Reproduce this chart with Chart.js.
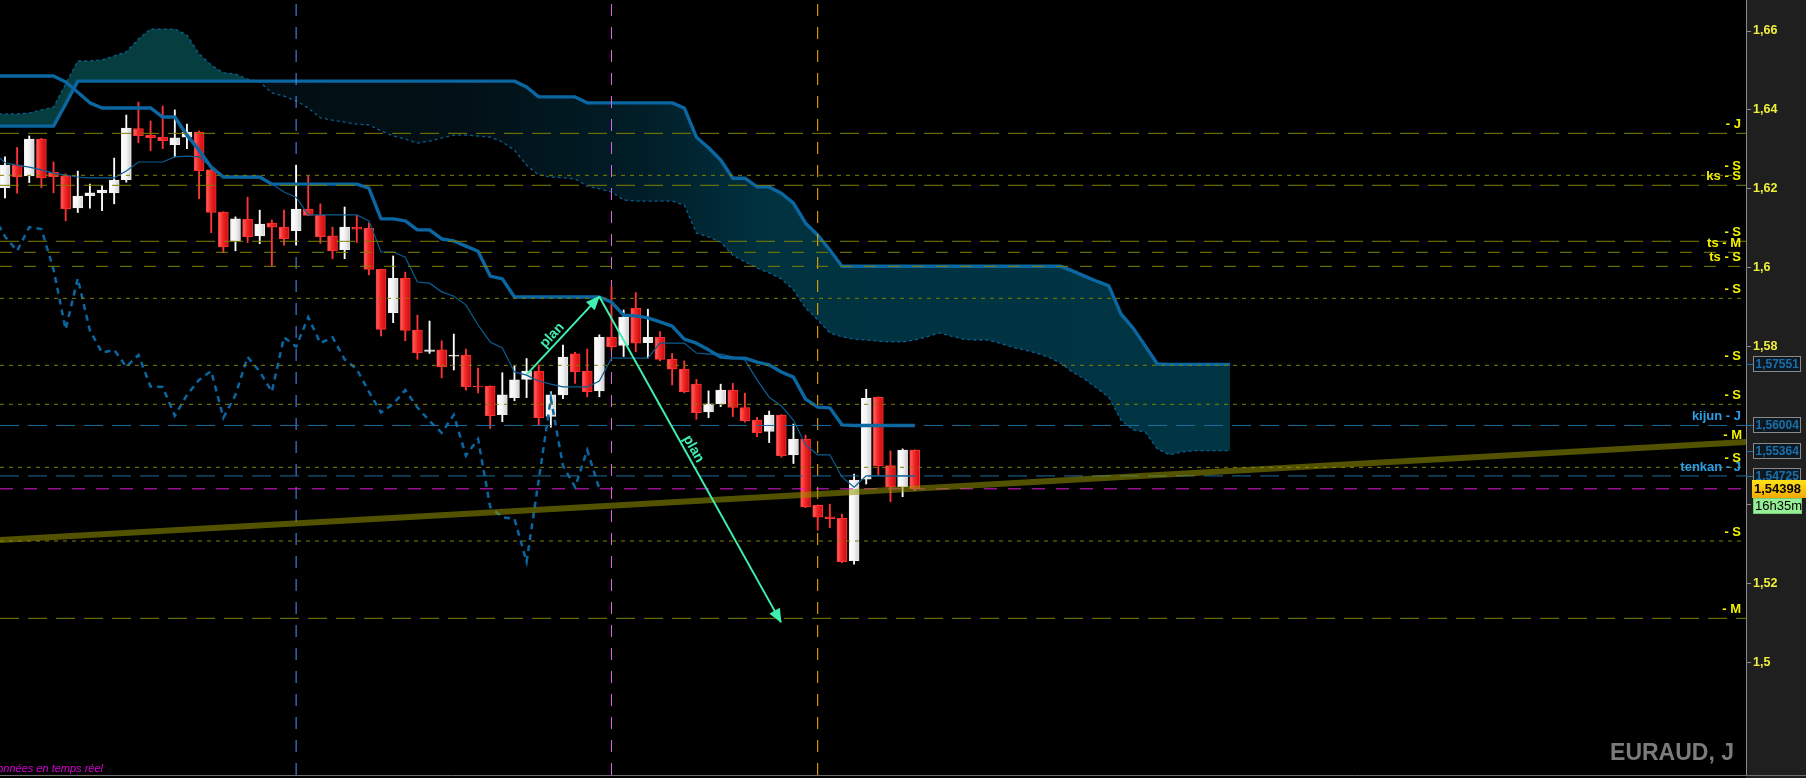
<!DOCTYPE html>
<html>
<head>
<meta charset="utf-8">
<title>EURAUD, J</title>
<script src="https://cdn.jsdelivr.net/npm/chart.js@4.4.1/dist/chart.umd.min.js"></script>
<style>
html,body{margin:0;padding:0;background:#000;overflow:hidden;}
#c{display:block;}
</style>
</head>
<body>
<canvas id="c" width="1806" height="778"></canvas>
<script>
// ======================= DATA =======================
// Daily candles, index 0..75 (x = candle index)
const opens = [1.6203,1.6260,1.6233,1.6326,1.6242,1.6233,1.6152,1.6183,1.6190,1.6190,
1.6223,1.6353,1.6336,1.6331,1.6312,1.6331,1.6344,1.6248,1.6141,1.6068,
1.6123,1.6081,1.6113,1.6103,1.6094,1.6148,1.6133,1.6081,1.6046,1.6103,
1.6100,1.5996,1.5886,1.5973,1.5842,1.5788,1.5792,1.5776,1.5778,1.5700,
1.5700,1.5628,1.5671,1.5717,1.5738,1.5623,1.5678,1.5782,1.5738,1.5688,
1.5824,1.5803,1.5897,1.5810,1.5824,1.5768,1.5743,1.5705,1.5635,1.5655,
1.5690,1.5646,1.5614,1.5585,1.5627,1.5526,1.5566,1.5398,1.5369,1.5365,
1.5258,1.5464,1.5672,1.5499,1.5445,1.5538];
const highs = [1.6281,1.6305,1.6334,1.6328,1.6268,1.6238,1.6245,1.6212,1.6209,1.6278,
1.6387,1.6420,1.6372,1.6410,1.6400,1.6364,1.6347,1.6249,1.6142,1.6129,
1.6179,1.6146,1.6121,1.6146,1.6260,1.6234,1.6162,1.6103,1.6154,1.6133,
1.6114,1.5997,1.6030,1.5989,1.5880,1.5865,1.5815,1.5832,1.5794,1.5746,
1.5701,1.5734,1.5751,1.5770,1.5754,1.5686,1.5804,1.5786,1.5794,1.5830,
1.5952,1.5893,1.5937,1.5895,1.5838,1.5783,1.5764,1.5717,1.5688,1.5705,
1.5707,1.5682,1.5621,1.5637,1.5628,1.5604,1.5576,1.5399,1.5401,1.5376,
1.5477,1.5692,1.5673,1.5536,1.5541,1.5539];
const lows = [1.6177,1.6189,1.6216,1.6203,1.6190,1.6119,1.6140,1.6151,1.6145,1.6162,
1.6217,1.6317,1.6297,1.6302,1.6281,1.6302,1.6175,1.6089,1.6038,1.6043,
1.6064,1.6061,1.6004,1.6057,1.6058,1.6132,1.6062,1.6023,1.6023,1.6064,
1.5982,1.5827,1.5861,1.5815,1.5768,1.5783,1.5721,1.5741,1.5690,1.5683,
1.5593,1.5610,1.5663,1.5671,1.5600,1.5596,1.5668,1.5707,1.5673,1.5673,
1.5792,1.5775,1.5787,1.5771,1.5764,1.5703,1.5683,1.5616,1.5620,1.5648,
1.5623,1.5609,1.5572,1.5557,1.5520,1.5504,1.5392,1.5335,1.5341,1.5253,
1.5249,1.5452,1.5475,1.5407,1.5420,1.5435];
const closes = [1.6260,1.6231,1.6326,1.6228,1.6231,1.6150,1.6182,1.6190,1.6197,1.6222,
1.6354,1.6335,1.6330,1.6322,1.6329,1.6344,1.6246,1.6140,1.6053,1.6124,
1.6079,1.6111,1.6103,1.6074,1.6149,1.6133,1.6079,1.6043,1.6103,1.6098,
1.5996,1.5844,1.5973,1.5841,1.5785,1.5792,1.5749,1.5779,1.5699,1.5698,
1.5625,1.5678,1.5716,1.5738,1.5620,1.5678,1.5774,1.5737,1.5686,1.5824,
1.5800,1.5875,1.5809,1.5824,1.5768,1.5743,1.5686,1.5633,1.5655,1.5690,
1.5646,1.5612,1.5582,1.5627,1.5524,1.5566,1.5394,1.5368,1.5364,1.5255,
1.5462,1.5669,1.5498,1.5444,1.5538,1.54398];

// Ichimoku lines (first value sits at index LINE_START)
const LINE_START = -1;
const tenkan = [1.6294,1.6266,1.6260,1.6255,1.6248,1.6240,1.6235,1.6230,1.6228,1.6228,
1.6228,1.6245,1.6268,1.6268,1.6268,1.6281,1.6283,1.6281,1.6255,1.6230,
1.6230,1.6228,1.6228,1.6212,1.6192,1.6179,1.6134,1.6134,1.6134,1.6134,
1.6134,1.6119,1.6040,1.6040,1.6027,1.5964,1.5961,1.5939,1.5928,1.5906,
1.5855,1.5812,1.5797,1.5736,1.5728,1.5713,1.5705,1.5698,1.5698,1.5698,
1.5713,1.5771,1.5771,1.5771,1.5771,1.5809,1.5809,1.5809,1.5784,1.5781,
1.5781,1.5774,1.5766,1.5716,1.5672,1.5650,1.5614,1.5551,1.5526,1.5526,
1.5470,1.5444,1.54725,1.54725,1.54725,1.54725,1.54725];
const kijun = [1.6486,1.6486,1.6486,1.6486,1.6486,1.6486,1.6471,1.6445,1.6418,1.6405,
1.6405,1.6405,1.6405,1.6405,1.6382,1.6382,1.6336,1.6298,1.6255,1.6230,
1.6230,1.6230,1.6230,1.6212,1.6212,1.6212,1.6212,1.6212,1.6212,1.6212,
1.6212,1.6202,1.6124,1.6124,1.6119,1.6096,1.6096,1.6073,1.6068,1.6055,
1.6042,1.5979,1.5972,1.5926,1.5926,1.5926,1.5926,1.5926,1.5926,1.5926,
1.5926,1.5913,1.5880,1.5878,1.5873,1.5863,1.5852,1.5819,1.5809,1.5792,
1.5774,1.5771,1.5771,1.5761,1.5754,1.5736,1.5723,1.5667,1.5647,1.5645,
1.5602,1.56004,1.56004,1.56004,1.56004,1.56004,1.56004];
// Kumo (projected 26 sessions ahead), first value at index CLOUD_START
const CLOUD_START = -1;
const senkouA = [1.6390,1.6390,1.6390,1.6392,1.6400,1.6407,1.6466,1.6524,1.6524,1.6527,
1.6537,1.6547,1.6580,1.6605,1.6605,1.6605,1.6590,1.6542,1.6514,1.6494,
1.6491,1.6478,1.6471,1.6443,1.6435,1.6423,1.6405,1.6380,1.6374,1.6369,
1.6364,1.6362,1.6347,1.6334,1.6326,1.6316,1.6321,1.6329,1.6336,1.6336,
1.6334,1.6331,1.6319,1.6298,1.6260,1.6235,1.6230,1.6228,1.6225,1.6207,
1.6200,1.6192,1.6172,1.6169,1.6169,1.6169,1.6169,1.6159,1.6088,1.6078,
1.6065,1.6032,1.6015,1.5999,1.5987,1.5972,1.5944,1.5898,1.5868,1.5835,
1.5825,1.5819,1.5817,1.5814,1.5812,1.5812,1.5817,1.5825,1.5835,1.5827,
1.5819,1.5817,1.5817,1.5809,1.5799,1.5792,1.5784,1.5774,1.5759,1.5736,
1.5718,1.5695,1.5672,1.5614,1.5589,1.5584,1.5541,1.5526,1.5533,1.55364,
1.55364,1.55364,1.55364];
const senkouB = [1.6359,1.6359,1.6359,1.6359,1.6359,1.6359,1.6415,1.6473,1.6473,1.6473,
1.6473,1.6473,1.6473,1.6473,1.6473,1.6473,1.6473,1.6473,1.6473,1.6473,
1.6473,1.6473,1.6473,1.6473,1.6473,1.6473,1.6473,1.6473,1.6473,1.6473,
1.6473,1.6473,1.6473,1.6473,1.6473,1.6473,1.6473,1.6473,1.6473,1.6473,
1.6473,1.6473,1.6473,1.6473,1.6458,1.6433,1.6433,1.6433,1.6433,1.6418,
1.6418,1.6418,1.6418,1.6418,1.6418,1.6418,1.6418,1.6405,1.6331,1.6304,
1.6273,1.6227,1.6227,1.6205,1.6205,1.6189,1.6164,1.6113,1.6083,1.6045,
1.6004,1.6004,1.6004,1.6004,1.6004,1.6004,1.6004,1.6004,1.6004,1.6004,
1.6004,1.6004,1.6004,1.6004,1.6004,1.6004,1.6004,1.6004,1.6004,1.5992,
1.5979,1.5966,1.5954,1.5883,1.5847,1.5802,1.5756,1.57551,1.57551,1.57551,
1.57551,1.57551,1.57551];
// Chikou span = closes plotted 26 sessions back
const CHIKOU_SHIFT = 26;

// Support / resistance levels and their tags
const levelValues = [1.63407,1.62343,1.62090,1.60671,1.60392,1.60037,1.59226,1.57528,1.56540,1.54943,1.53076,1.51117];
const levelLabels = ['- J','- S','ks - S','- S','ts - M','ts - S','- S','- S','- S','- S','- S','- M'];
const kijunLevel = 1.56004, kijunLabel = 'kijun - J';
const tenkanLevel = 1.54725, tenkanLabel = 'tenkan - J';
const lastPrice = 1.54398;
const timerText = '16h35m';

// Vertical markers (candle index)
const markerBars = [24, 50, 67];

// Trend line (candle index, price)
const trendX = [-1, 144];
const trendY = [1.53091, 1.55592];
const trendLabel = '- M';

// "plan" arrows [fromIndex, fromPrice, toIndex, toPrice]
const planArrows = [[43.02, 1.5730, 48.99, 1.5927], [48.99, 1.5927, 63.97, 1.5102]];
const planLabel = 'plan';

// Axis
const yTickValues = [1.50,1.52,1.54,1.56,1.58,1.60,1.62,1.64,1.66];
const X_MIN = -0.4122, X_MAX = 143.53, Y_MIN = 1.47146, Y_MAX = 1.66786;
const symbolText = 'EURAUD, J';
const feedText = 'Données en temps réel';

// ======================= STYLE =======================
const FONT = '"Liberation Sans", Arial, sans-serif';
const OLIVE = 'rgb(128,128,0)';
const LABEL_YELLOW = '#f2f200';
const LABEL_BLUE = '#2a9fe6';
const ARROW_COLOR = '#40f0b0';
const markerColors = ['#5a8eff', '#e264e6', '#ffb400'];
const dashLong = [19, 9], dashMid = [12, 12], dashShort = [4, 5];
const levelDash = [dashLong, dashShort, dashLong, dashLong, dashMid, dashMid, dashShort, dashShort, dashShort, dashShort, dashShort, dashLong];
const planTextPos = [0.43, 0.48];

const canvas = document.getElementById('c');
const c2d = canvas.getContext('2d');
const kumoBear = c2d.createLinearGradient(0, 0, 1746, 0);
kumoBear.addColorStop(0, 'rgb(2,10,14)');
kumoBear.addColorStop(0.27, 'rgb(2,17,23)');
kumoBear.addColorStop(0.37, 'rgb(1,30,40)');
kumoBear.addColorStop(0.44, 'rgb(0,50,64)');
kumoBear.addColorStop(1, 'rgb(0,56,72)');
const kumoBull = 'rgb(6,62,64)';

const pts = (arr, start) => arr.map((v, i) => ({x: i + start, y: v}));
const isBull = i => closes[i] >= opens[i];

// ======================= DATASETS =======================
const ds = [];
const spanBIndex = 0;
ds.push({type:'line', data: pts(senkouB, CLOUD_START), borderColor:'#0a67a2', borderWidth:3.4,
  pointRadius:0, fill:false, order:94, clip:0, borderJoinStyle:'round'});
ds.push({type:'line', data: pts(senkouA, CLOUD_START), borderColor:'#0b5e90', borderWidth:1.3,
  borderDash:[3,3], pointRadius:0, order:95, clip:0,
  fill:{target: spanBIndex, above: kumoBull, below: kumoBear}});
markerBars.forEach((k, i) => ds.push({type:'line', data:[{x:k, y:Y_MIN},{x:k, y:Y_MAX}],
  borderColor: markerColors[i], borderWidth:1, borderDash:[12,11], pointRadius:0, order:90, clip:0, fill:false}));
// wicks
ds.push({type:'bar', data: highs.map((h, i) => ({x:i, y:[lows[i], h]})),
  backgroundColor: highs.map((h, i) => isBull(i) ? '#ffffff' : '#ff3434'),
  barThickness:1.2, grouped:false, order:80, clip:0});
// bodies
ds.push({type:'bar', data: opens.map((o, i) => ({x:i, y:[o, closes[i]]})),
  backgroundColor: (c) => {
    if (c.type !== 'data') return '#ffffff';
    const i = c.dataIndex, bull = isBull(i), chart = c.chart;
    if (!chart.chartArea) return bull ? '#f2f2f2' : '#ee2222';
    const px = chart.scales.x.getPixelForValue(i);
    const g = chart.ctx.createLinearGradient(px - 5, 0, px + 5, 0);
    if (bull) { g.addColorStop(0, '#ffffff'); g.addColorStop(0.5, '#f4f4f4'); g.addColorStop(1, '#cdcdcd'); }
    else { g.addColorStop(0, '#ff6a6a'); g.addColorStop(0.45, '#f22626'); g.addColorStop(1, '#c40c0c'); }
    return g;
  },
  borderColor: opens.map((o, i) => isBull(i) ? '#eeeeee' : '#ff3030'),
  borderWidth:1, borderSkipped:false, barThickness:10, grouped:false, order:79, clip:0});
// chikou, tenkan, kijun
ds.push({type:'line', data: pts(closes.slice(CHIKOU_SHIFT + LINE_START), LINE_START), borderColor:'#0a66a0',
  borderWidth:2.5, borderDash:[6,5], pointRadius:0, fill:false, order:70, clip:0});
ds.push({type:'line', data: pts(tenkan, LINE_START), borderColor:'#0b5d92', borderWidth:1.2,
  pointRadius:0, fill:false, order:69, clip:0});
ds.push({type:'line', data: pts(kijun, LINE_START), borderColor:'#0a67a2', borderWidth:3.4,
  pointRadius:0, fill:false, order:68, clip:0, borderJoinStyle:'round'});
// horizontal levels
levelValues.forEach((v, i) => ds.push({type:'line', data:[{x:X_MIN, y:v},{x:X_MAX, y:v}],
  borderColor: OLIVE, borderWidth:1, borderDash: levelDash[i], pointRadius:0, fill:false, order:50, clip:0}));
ds.push({type:'line', data:[{x:X_MIN, y:kijunLevel},{x:X_MAX, y:kijunLevel}], borderColor:'#1c6c9c',
  borderWidth:1, borderDash:dashLong, pointRadius:0, fill:false, order:50, clip:0});
ds.push({type:'line', data:[{x:X_MIN, y:tenkanLevel},{x:X_MAX, y:tenkanLevel}], borderColor:'#1c6c9c',
  borderWidth:1, borderDash:dashLong, pointRadius:0, fill:false, order:50, clip:0});
ds.push({type:'line', data:[{x:X_MIN, y:lastPrice},{x:X_MAX, y:lastPrice}], borderColor:'#e21ad6',
  borderWidth:1, borderDash:[13,11], pointRadius:0, fill:false, order:50, clip:0});
// trend line
ds.push({type:'line', data: trendX.map((x, i) => ({x, y: trendY[i]})), borderColor:'rgba(150,150,0,0.55)',
  borderWidth:6, pointRadius:0, fill:false, order:40, clip:0});
// plan arrows
planArrows.forEach(a => ds.push({type:'line', data:[{x:a[0], y:a[1]},{x:a[2], y:a[3]}], borderColor: ARROW_COLOR,
  borderWidth:2, pointRadius:0, fill:false, order:30, clip:0}));

// ======================= PLUGIN =======================
function fmt(v) { return v.toFixed(5).replace('.', ','); }
const overlay = {
  id: 'overlay',
  beforeDraw(chart) {
    const {ctx, chartArea: a, width, height} = chart;
    ctx.save();
    ctx.fillStyle = '#000'; ctx.fillRect(0, 0, width, height);
    ctx.fillStyle = '#1f1f1f'; ctx.fillRect(a.right, 0, width - a.right, height);
    ctx.restore();
  },
  afterDraw(chart) {
    const {ctx, chartArea: a, width, height} = chart;
    const xs = chart.scales.x, ys = chart.scales.y;
    ctx.save();
    // level tags
    ctx.textAlign = 'right'; ctx.textBaseline = 'middle';
    ctx.font = 'bold 13px ' + FONT;
    ctx.fillStyle = LABEL_YELLOW;
    levelValues.forEach((v, i) => ctx.fillText(levelLabels[i], a.right - 5, ys.getPixelForValue(v) - 9));
    const tv = trendY[0] + (xs.max - trendX[0]) * (trendY[1] - trendY[0]) / (trendX[1] - trendX[0]);
    ctx.fillText(trendLabel, a.right - 4, ys.getPixelForValue(tv) - 7);
    ctx.fillStyle = LABEL_BLUE;
    ctx.fillText(kijunLabel, a.right - 5, ys.getPixelForValue(kijunLevel) - 9);
    ctx.fillText(tenkanLabel, a.right - 5, ys.getPixelForValue(tenkanLevel) - 9);

    // arrow heads and "plan" tags
    planArrows.forEach((p, i) => {
      const x0 = xs.getPixelForValue(p[0]), y0 = ys.getPixelForValue(p[1]);
      const x1 = xs.getPixelForValue(p[2]), y1 = ys.getPixelForValue(p[3]);
      const ang = Math.atan2(y1 - y0, x1 - x0);
      ctx.save();
      ctx.translate(x1, y1); ctx.rotate(ang);
      ctx.beginPath(); ctx.moveTo(1, 0); ctx.lineTo(-13, -6); ctx.lineTo(-13, 6); ctx.closePath();
      ctx.fillStyle = ARROW_COLOR; ctx.fill();
      ctx.restore();
      const t = planTextPos[i];
      ctx.save();
      ctx.translate(x0 + (x1 - x0) * t, y0 + (y1 - y0) * t); ctx.rotate(ang);
      ctx.font = 'bold 14px ' + FONT; ctx.fillStyle = ARROW_COLOR;
      ctx.textAlign = 'center'; ctx.textBaseline = 'middle';
      ctx.fillText(planLabel, 0, -8);
      ctx.restore();
    });

    // axis value boxes
    const boxes = [
      {v: senkouB[senkouB.length - 1], fill:'#0e1821', stroke:'#8a8a8a', color:'#1b6fab'},
      {v: kijun[kijun.length - 1], fill:'#0e1821', stroke:'#8a8a8a', color:'#1b6fab'},
      {v: senkouA[senkouA.length - 1], fill:'#0e1821', stroke:'#8a8a8a', color:'#1b6fab'},
      {v: tenkan[tenkan.length - 1], fill:'#0e1821', stroke:'#8a8a8a', color:'#1b6fab'}
    ];
    ctx.font = 'bold 12px ' + FONT; ctx.textAlign = 'left'; ctx.textBaseline = 'middle';
    boxes.forEach(b => {
      const y = Math.round(ys.getPixelForValue(b.v));
      ctx.strokeStyle = b.color; ctx.lineWidth = 1;
      ctx.beginPath(); ctx.moveTo(a.right, y + 0.5); ctx.lineTo(a.right + 7, y + 0.5); ctx.stroke();
      ctx.fillStyle = b.fill; ctx.fillRect(a.right + 7, y - 8, 48, 16);
      ctx.strokeStyle = b.stroke; ctx.strokeRect(a.right + 7.5, y - 7.5, 47, 15);
      ctx.fillStyle = b.color; ctx.fillText(fmt(b.v), a.right + 9.5, y + 0.5);
    });
    // last price box
    const py = Math.round(ys.getPixelForValue(lastPrice));
    const g = ctx.createLinearGradient(0, py - 9, 0, py + 9);
    g.addColorStop(0, '#ffe21a'); g.addColorStop(1, '#f2a800');
    ctx.fillStyle = g; ctx.fillRect(a.right + 6, py - 9, width - a.right - 6, 18);
    ctx.fillStyle = '#000'; ctx.font = 'bold 13px ' + FONT;
    ctx.fillText(fmt(lastPrice), a.right + 8, py + 0.5);
    // timer box
    ctx.fillStyle = '#96ee96'; ctx.fillRect(a.right + 7, py + 9, 49, 16);
    ctx.strokeStyle = '#7acc7a'; ctx.strokeRect(a.right + 7.5, py + 9.5, 48, 15);
    ctx.fillStyle = '#000'; ctx.font = '13px ' + FONT;
    ctx.fillText(timerText, a.right + 9, py + 17.5);

    // symbol and feed captions
    ctx.font = 'bold 23px ' + FONT; ctx.textAlign = 'right'; ctx.textBaseline = 'alphabetic';
    ctx.fillStyle = '#7b7b7b'; ctx.fillText(symbolText, 1734, 760);
    ctx.font = 'italic 11px ' + FONT; ctx.fillStyle = '#d400d4';
    ctx.fillText(feedText, 103, 772);

    // bottom border
    ctx.strokeStyle = '#6e6e6e'; ctx.lineWidth = 1;
    ctx.beginPath(); ctx.moveTo(0, a.bottom + 0.5); ctx.lineTo(width, a.bottom + 0.5); ctx.stroke();
    ctx.restore();
  }
};

// ======================= CHART =======================
new Chart(canvas, {
  type: 'line',
  data: { datasets: ds },
  options: {
    responsive: false,
    devicePixelRatio: 1,
    animation: false,
    events: [],
    layout: { padding: { left: 0, right: 0, top: 0, bottom: 3 } },
    elements: { line: { tension: 0 } },
    plugins: { legend: { display: false }, tooltip: { enabled: false } },
    scales: {
      x: { type: 'linear', min: X_MIN, max: X_MAX, display: false, offset: false },
      y: {
        type: 'linear', position: 'right', min: Y_MIN, max: Y_MAX,
        afterBuildTicks: (s) => { s.ticks = yTickValues.map(v => ({ value: v })); },
        afterFit: (s) => { s.width = 60; s.paddingTop = 0; s.paddingBottom = 0; },
        ticks: {
          color: '#f0f03c', padding: 2,
          font: { family: FONT, size: 12.5, weight: 'bold' },
          callback: (v) => String(+Number(v).toFixed(2)).replace('.', ',')
        },
        grid: { display: true, drawOnChartArea: false, drawTicks: true, tickLength: 5, tickColor: '#8a8a8a', color: '#8a8a8a' },
        border: { display: true, color: '#8a8a8a', width: 1 }
      }
    }
  },
  plugins: [overlay]
});
</script>
</body>
</html>
